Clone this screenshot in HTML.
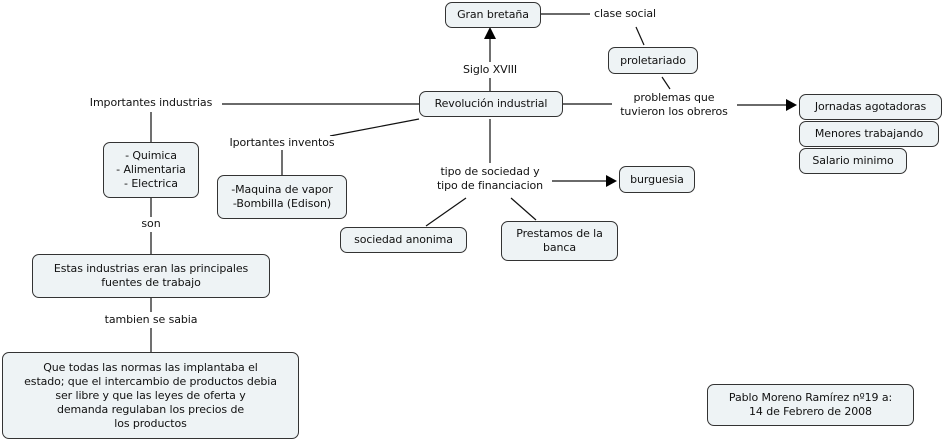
<!DOCTYPE html>
<html><head><meta charset="utf-8"><style>
body{margin:0;width:942px;height:441px;background:#fff;position:relative;overflow:hidden;font-family:"DejaVu Sans","Liberation Sans",sans-serif;font-size:11px;color:#111}
.n{position:absolute;box-sizing:border-box;border:1px solid #333;border-radius:7px;background:#eef3f5;display:flex;align-items:center;justify-content:center;text-align:center;line-height:14px;letter-spacing:-0.1px}
.l{position:absolute;text-align:center;line-height:14px;white-space:nowrap;transform:translateX(-50%);background:#fff;letter-spacing:-0.1px}
svg{position:absolute;left:0;top:0}
</style></head><body>
<svg width="942" height="441">
<g stroke="#111" stroke-width="1.2" fill="none">
<line x1="541" y1="14" x2="590" y2="14"/>
<line x1="636" y1="27" x2="644" y2="45"/>
<line x1="662" y1="77" x2="670" y2="89"/>
<line x1="562" y1="104" x2="612" y2="104"/>
<line x1="737" y1="105" x2="788" y2="105"/>
<line x1="490" y1="91" x2="490" y2="78"/>
<line x1="490" y1="62" x2="490" y2="38"/>
<line x1="222" y1="104" x2="419" y2="104"/>
<line x1="151" y1="112" x2="151" y2="142"/>
<line x1="419" y1="119" x2="330" y2="136"/>
<line x1="282" y1="150" x2="282" y2="175"/>
<line x1="490" y1="119" x2="490" y2="163"/>
<line x1="552" y1="181" x2="607" y2="181"/>
<line x1="466" y1="198" x2="426" y2="226"/>
<line x1="511" y1="198" x2="536" y2="220"/>
<line x1="151" y1="197" x2="151" y2="217"/>
<line x1="151" y1="232" x2="151" y2="254"/>
<line x1="151" y1="297" x2="151" y2="312"/>
<line x1="151" y1="328" x2="151" y2="352"/>
</g>
<g fill="#000">
<polygon points="490,27 484,39 496,39"/>
<polygon points="797,105 786,99 786,111"/>
<polygon points="617,181 606,175 606,187"/>
</g>
</svg>
<div class="n" style="left:445px;top:2px;width:96px;height:26px">Gran bretaña</div>
<div class="n" style="left:608px;top:47px;width:90px;height:27px">proletariado</div>
<div class="n" style="left:419px;top:91px;width:144px;height:26px">Revolución industrial</div>
<div class="n" style="left:799px;top:94px;width:143px;height:26px">Jornadas agotadoras</div>
<div class="n" style="left:799px;top:121px;width:140px;height:26px">Menores trabajando</div>
<div class="n" style="left:799px;top:148px;width:108px;height:26px">Salario minimo</div>
<div class="n" style="left:103px;top:142px;width:96px;height:56px">- Quimica<br>- Alimentaria<br>- Electrica</div>
<div class="n" style="left:217px;top:175px;width:130px;height:44px">-Maquina de vapor<br>-Bombilla (Edison)</div>
<div class="n" style="left:619px;top:166px;width:76px;height:27px">burguesia</div>
<div class="n" style="left:340px;top:227px;width:127px;height:26px">sociedad anonima</div>
<div class="n" style="left:501px;top:221px;width:117px;height:40px">Prestamos de la<br>banca</div>
<div class="n" style="left:32px;top:254px;width:238px;height:44px">Estas industrias eran las principales<br>fuentes de trabajo</div>
<div class="n" style="left:2px;top:352px;width:297px;height:87px">Que todas las normas las implantaba el<br>estado; que el intercambio de productos debia<br>ser libre y que las leyes de oferta y<br>demanda regulaban los precios de<br>los productos</div>
<div class="n" style="left:707px;top:384px;width:207px;height:42px">Pablo Moreno Ramírez nº19 a:<br>14 de Febrero de 2008</div>
<div class="l" style="left:625px;top:7px">clase social</div>
<div class="l" style="left:490px;top:63px">Siglo XVIII</div>
<div class="l" style="left:151px;top:96px">Importantes industrias</div>
<div class="l" style="left:282px;top:136px">Iportantes inventos</div>
<div class="l" style="left:674px;top:91px">problemas que<br>tuvieron los obreros</div>
<div class="l" style="left:490px;top:165px">tipo de sociedad y<br>tipo de financiacion</div>
<div class="l" style="left:151px;top:217px">son</div>
<div class="l" style="left:151px;top:313px">tambien se sabia</div>
</body></html>
